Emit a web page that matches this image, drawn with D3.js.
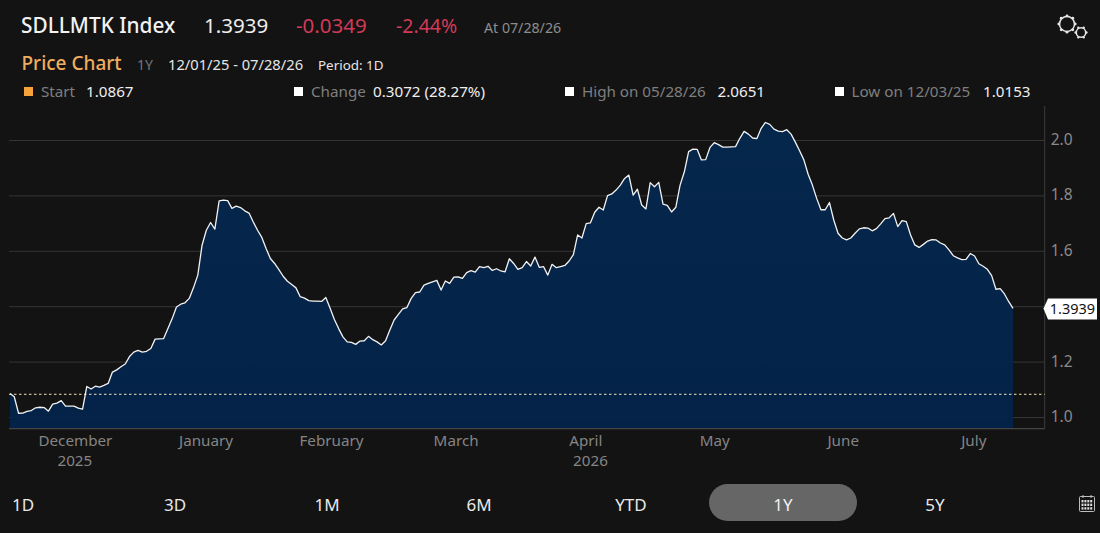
<!DOCTYPE html>
<html>
<head>
<meta charset="utf-8">
<script src="https://cdn.jsdelivr.net/npm/d3@7"></script>
<style>
html,body{margin:0;padding:0;background:#131313;overflow:hidden}
svg{display:block}
text{font-family:"Noto Sans",sans-serif}
</style>
</head>
<body>
<svg id="c" width="1100" height="533"></svg>
<script>
const prices = [
1.087,1.075,1.0153,1.016,1.022,1.025,1.035,1.037,1.036,1.023,1.048,1.052,1.061,1.041,1.041,1.041,1.034,1.030,1.112,1.103,
1.113,1.110,1.116,1.123,1.164,1.172,1.183,1.193,1.220,1.236,1.242,1.236,1.239,1.249,1.283,1.284,1.285,1.321,1.357,1.399,
1.409,1.414,1.430,1.469,1.514,1.622,1.676,1.704,1.680,1.782,1.785,1.783,1.755,1.763,1.758,1.746,1.738,1.706,1.676,1.650,
1.610,1.574,1.556,1.534,1.510,1.492,1.480,1.468,1.436,1.431,1.422,1.420,1.420,1.419,1.433,1.394,1.354,1.321,1.291,1.273,
1.271,1.264,1.276,1.277,1.293,1.281,1.273,1.262,1.277,1.316,1.352,1.372,1.392,1.397,1.430,1.451,1.453,1.478,1.484,1.490,
1.495,1.460,1.493,1.484,1.507,1.508,1.502,1.523,1.530,1.525,1.545,1.541,1.546,1.531,1.537,1.529,1.526,1.573,
1.556,1.535,1.541,1.563,1.547,1.579,1.542,1.545,1.514,1.553,1.541,1.545,1.549,1.565,1.588,1.659,1.648,1.700,1.703,1.741,
1.759,1.749,1.801,1.807,1.821,1.839,1.863,1.875,1.803,1.824,1.767,1.753,1.848,1.833,1.849,1.770,1.766,1.742,1.759,1.839,
1.887,1.960,1.969,1.968,1.930,1.931,1.975,1.992,1.985,1.976,1.976,1.977,1.978,2.008,2.033,2.023,2.009,2.007,2.044,
2.0651,2.058,2.041,2.034,2.032,2.039,2.023,1.994,1.963,1.930,1.878,1.839,1.791,1.750,1.750,1.776,1.713,1.665,1.648,1.641,
1.648,1.665,1.681,1.685,1.684,1.674,1.682,1.699,1.718,1.721,1.737,1.689,1.711,1.707,1.659,1.623,1.614,1.625,1.637,1.642,
1.641,1.630,1.623,1.605,1.584,1.576,1.570,1.571,1.592,1.583,1.555,1.546,1.535,1.512,1.463,1.465,1.446,1.418,1.3939
];
const startValue = 1.0867;
const lastLabel = "1.3939";
const gridTicks = [1.0,1.2,1.4,1.6,1.8,2.0];
const yLabelTicks = [1.0,1.2,1.6,1.8,2.0];
const monthLabels = ["December","January","February","March","April","May","June","July"];
const monthTickIndex = [15.2,45.8,75.2,104.4,134.8,165,195.1,225.7];
const yearLabels = [["2025",15.2],["2026",136]];
const rangeTabs = ["1D","3D","1M","6M","YTD","1Y","5Y"];
const activeTab = "1Y";
const legendItems = [
 {label:"Start",value:"1.0867",color:"#f5a33a"},
 {label:"Change",value:"0.3072 (28.27%)",color:"#ffffff"},
 {label:"High on 05/28/26",value:"2.0651",color:"#ffffff"},
 {label:"Low on 12/03/25",value:"1.0153",color:"#ffffff"}
];

const svg = d3.select("#c");
const L=10,R=1013,axisX=1044.7,bottom=428.7;
const x = d3.scaleLinear().domain([0,prices.length-1]).range([L,R]);
const y = d3.scaleLinear().domain([1,2]).range([417.5,140.5]);
const GRID="#353535";

function t(px,py,s,size,fill,opts={}){
  return svg.append("text").attr("x",px).attr("y",py).text(s)
   .attr("font-size",size).attr("fill",fill)
   .attr("font-weight",opts.w||400).attr("text-anchor",opts.a||"start");
}

// header
t(21,32.5,"SDLLMTK Index",20.8,"#f2f2f2",{w:500});
t(204,32.5,"1.3939",20.5,"#eeeeee");
t(296,32.5,"-0.0349",20.5,"#d23a57");
t(396,32.5,"-2.44%",19.5,"#d23a57");
t(484,33,"At 07/28/26",14.2,"#8d8d8d");
t(21.5,70,"Price Chart",19,"#f0ad5e",{w:500});
t(137,70,"1Y",14,"#777777");
t(168,70,"12/01/25 - 07/28/26",14.7,"#e6e6e6");
t(318,70,"Period: 1D",13.4,"#e6e6e6");

// legend
const legX=[[25,41,86],[295,311,373],[566,582,717.5],[836,851.5,983]];
legendItems.forEach((d,i)=>{
  svg.append("rect").attr("x",legX[i][0]-1).attr("y",87).attr("width",9).attr("height",9).attr("fill",d.color);
  t(legX[i][1],97,d.label,15.2,"#7f7f7f");
  t(legX[i][2],97,d.value,15.2,"#efefef");
});

// grid + y axis
const yAxis = d3.axisRight(y).tickValues(yLabelTicks).tickFormat(d3.format(".1f")).tickSize(0).tickPadding(6);
const gy = svg.append("g").attr("transform",`translate(${axisX},-1)`).call(yAxis);
gy.select(".domain").remove();
gy.selectAll("text").attr("font-size",15.5).attr("fill","#8a8a8a").attr("font-family",'"Noto Sans",sans-serif');
svg.append("g").selectAll("line").data(gridTicks).join("line")
  .attr("x1",9).attr("x2",axisX).attr("y1",d=>y(d)).attr("y2",d=>y(d))
  .attr("stroke",GRID).attr("stroke-width",1);

// area
const grad = svg.append("defs").append("linearGradient").attr("id","ag").attr("x1",0).attr("y1",0).attr("x2",0).attr("y2",1);
grad.append("stop").attr("offset","0%").attr("stop-color","#05284f");
grad.append("stop").attr("offset","100%").attr("stop-color","#03234a");
svg.append("path").datum(prices)
  .attr("d",d3.area().x((d,i)=>x(i)).y0(bottom).y1(d=>y(d)))
  .attr("fill","url(#ag)").attr("fill-opacity",0.95);

// axes frame
svg.append("line").attr("x1",axisX).attr("x2",axisX).attr("y1",106).attr("y2",bottom).attr("stroke","#3c3c3c");
svg.append("line").attr("x1",9).attr("x2",axisX).attr("y1",bottom).attr("y2",bottom).attr("stroke","#444444").attr("stroke-width",1.2);

// start reference line
svg.append("line").attr("x1",9).attr("x2",axisX).attr("y1",y(startValue)+0.8).attr("y2",y(startValue)+0.8)
  .attr("stroke","#f4e3b8").attr("stroke-width",1).attr("stroke-dasharray","2.5 2.5");

// price line
svg.append("path").datum(prices)
  .attr("d",d3.line().x((d,i)=>x(i)).y(d=>y(d)))
  .attr("fill","none").attr("stroke","#f2f2f2").attr("stroke-width",1.3).attr("stroke-linejoin","round");

// x axis
const xAxis = d3.axisBottom(x).tickValues(monthTickIndex).tickFormat((d,i)=>monthLabels[i]).tickSize(0).tickPadding(6.5);
const gx = svg.append("g").attr("transform",`translate(0,${bottom})`).call(xAxis);
gx.select(".domain").remove();
gx.selectAll("text").attr("font-size",15.2).attr("fill","#858585").attr("font-family",'"Noto Sans",sans-serif');
yearLabels.forEach(d=>t(x(d[1]),466,d[0],15.2,"#858585",{a:"middle"}));

// last-price callout
const ly=y(prices[prices.length-1]);
svg.append("path").attr("d",`M1043.5,${ly} L1048,${ly-10} L1097,${ly-10} L1097,${ly+11} L1048,${ly+11} Z`).attr("fill","#ffffff");
t(1072.5,ly+5.5,lastLabel,14.5,"#111111",{a:"middle"});

// range tabs
svg.append("rect").attr("x",709).attr("y",484).attr("width",148).attr("height",37).attr("rx",18.5).attr("fill","#666666");
const tabX=d3.scalePoint().domain(rangeTabs).range([23,935]);
svg.append("g").selectAll("text").data(rangeTabs).join("text")
  .attr("x",d=>tabX(d)).attr("y",511).attr("text-anchor","middle").attr("font-size",17)
  .attr("fill",d=>d===activeTab?"#f0f0f0":"#e8e8e8").text(d=>d);

// gears
function gear(cx,cy,r,teeth,dot){
  svg.append("circle").attr("cx",cx).attr("cy",cy).attr("r",r).attr("fill","none").attr("stroke","#e6e6e6").attr("stroke-width",1.5);
  d3.range(teeth).forEach(i=>{
    const a=i/teeth*2*Math.PI;
    svg.append("circle").attr("cx",cx+Math.cos(a)*(r+0.7)).attr("cy",cy+Math.sin(a)*(r+0.7)).attr("r",dot).attr("fill","#e6e6e6");
  });
}
gear(1067,24,7.5,8,1.4);
gear(1081,32.5,4.7,6,1.2);

// calendar
const cal=svg.append("g").attr("transform","translate(1079,495)");
cal.append("rect").attr("x",0.5).attr("y",1.5).attr("width",15).attr("height",15).attr("rx",1).attr("fill","none").attr("stroke","#bdbdbd");
cal.append("line").attr("x1",4).attr("x2",4).attr("y1",0).attr("y2",3).attr("stroke","#bdbdbd");
cal.append("line").attr("x1",12).attr("x2",12).attr("y1",0).attr("y2",3).attr("stroke","#bdbdbd");
d3.range(3).forEach(r=>d3.range(4).forEach(c=>{
  cal.append("rect").attr("x",2.5+c*2.9).attr("y",5+r*3.6).attr("width",2).attr("height",2.4).attr("fill","#dddddd");
}));
</script>
</body>
</html>
